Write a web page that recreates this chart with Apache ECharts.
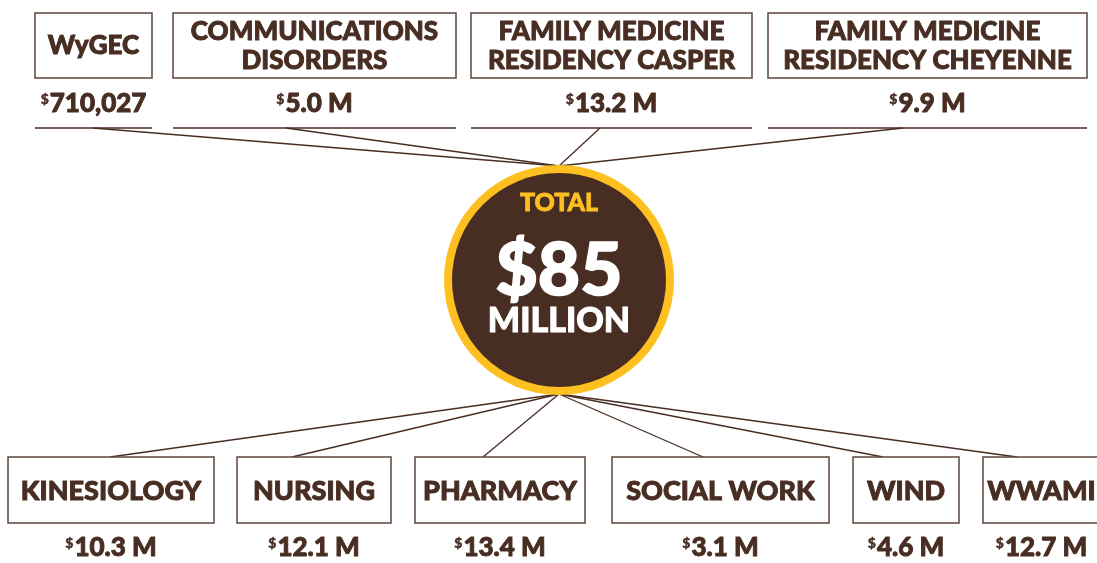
<!DOCTYPE html>
<html>
<head>
<meta charset="utf-8">
<script src="https://cdn.jsdelivr.net/npm/echarts@6/dist/echarts.min.js"></script>
<style>
  html, body { margin: 0; padding: 0; background: #fff; }
  #chart { width: 1097px; height: 563px; }
</style>
</head>
<body>
<div id="chart"></div>
<script>
// data
const topNames = ['WyGEC', 'COMMUNICATIONS\nDISORDERS', 'FAMILY MEDICINE\nRESIDENCY CASPER', 'FAMILY MEDICINE\nRESIDENCY CHEYENNE'];
const topAmounts = [0.710027, 5.0, 13.2, 9.9]; // millions
const bottomNames = ['KINESIOLOGY', 'NURSING', 'PHARMACY', 'SOCIAL WORK', 'WIND', 'WWAMI'];
const bottomAmounts = [10.3, 12.1, 13.4, 3.1, 4.6, 12.7]; // millions
const totalLabel = 'TOTAL';
const totalMillions = 85;

// layout (box left/right edges and where the connector meets each box)
const topBoxes = [[35, 152], [173, 456], [471, 752], [768, 1087]];
const topAnchor = [93, 286, 600, 903];
const bottomBoxes = [[8, 214], [237, 391], [415, 585], [612, 829], [853, 959], [983, 1100]];
const bottomAnchor = [110, 292, 483, 703, 883, 1017];

const brown = '#482d22';
const gold = '#fdc020';
const font = 'Lato';
const cx = 559, cy = 280, R = 115;

function fmt(m) {
  if (m < 1) return Math.round(m * 1e6).toLocaleString('en-US');
  return m.toFixed(1) + ' M';
}
// heavy text: bold face plus a thin outline of the same colour
function heavy(col, w) {
  return { fill: col, stroke: col, lineWidth: w };
}
function moneyText(x, y, m) {
  return {
    type: 'text', x: x, y: y, z: 5,
    style: {
      text: '{s|$}{v|' + fmt(m) + '}',
      align: 'center', verticalAlign: 'middle',
      rich: {
        s: Object.assign({ fontSize: 14, fontWeight: 900, fontFamily: font, padding: [0, 1, 10, 0] }, heavy(brown, 0.4)),
        v: Object.assign({ fontSize: 26, fontWeight: 900, fontFamily: font }, heavy(brown, 0.9))
      }
    }
  };
}

const els = [];
// connectors
topAnchor.forEach(a => els.push({
  type: 'line', z: 1, shape: { x1: a, y1: 128, x2: cx, y2: cy - R + 1 },
  style: { stroke: brown, lineWidth: 1.3 }
}));
bottomAnchor.forEach(a => els.push({
  type: 'line', z: 1, shape: { x1: cx, y1: cy + R - 1, x2: a, y2: 457 },
  style: { stroke: brown, lineWidth: 1.3 }
}));

// top row
topNames.forEach((n, i) => {
  const [l, r] = topBoxes[i];
  els.push({ type: 'rect', z: 3, shape: { x: l, y: 13, width: r - l, height: 65 },
    style: { fill: '#fff', stroke: '#5e453b', lineWidth: 1.5 } });
  els.push({ type: 'text', z: 4, x: (l + r) / 2, y: 46,
    style: Object.assign({ text: n, align: 'center', verticalAlign: 'middle', fontSize: 26, fontWeight: 900,
      fontFamily: font, lineHeight: 29 }, heavy(brown, 0.9)) });
  els.push(moneyText((l + r) / 2, 104, topAmounts[i]));
  els.push({ type: 'line', z: 3, shape: { x1: l, y1: 128, x2: r, y2: 128 },
    style: { stroke: brown, lineWidth: 1.5 } });
});

// bottom row
bottomNames.forEach((n, i) => {
  const [l, r] = bottomBoxes[i];
  els.push({ type: 'rect', z: 3, shape: { x: l, y: 457, width: r - l, height: 66 },
    style: { fill: '#fff', stroke: '#5e453b', lineWidth: 1.5 } });
  els.push({ type: 'text', z: 4, x: (l + r) / 2, y: 491,
    style: Object.assign({ text: n, align: 'center', verticalAlign: 'middle', fontSize: 27, fontWeight: 900,
      fontFamily: font }, heavy(brown, 0.9)) });
  els.push(moneyText((l + r) / 2, 548, bottomAmounts[i]));
});

// centre circle
els.push({ type: 'circle', z: 6, shape: { cx: cx, cy: cy, r: R }, style: { fill: gold } });
els.push({ type: 'circle', z: 7, shape: { cx: cx, cy: cy, r: R - 8 }, style: { fill: brown } });
els.push({ type: 'text', z: 8, x: cx, y: 203,
  style: Object.assign({ text: totalLabel, align: 'center', verticalAlign: 'middle', fontSize: 25, fontWeight: 900, fontFamily: font }, heavy(gold, 0.8)) });
els.push({ type: 'text', z: 8, x: cx, y: 271,
  style: Object.assign({ text: '$' + totalMillions, align: 'center', verticalAlign: 'middle', fontSize: 73, fontWeight: 900, fontFamily: font }, heavy('#fff', 1.6)) });
els.push({ type: 'text', z: 8, x: cx, y: 321,
  style: Object.assign({ text: 'MILLION', align: 'center', verticalAlign: 'middle', fontSize: 34, fontWeight: 900, fontFamily: font }, heavy('#fff', 1)) });

const chart = echarts.init(document.getElementById('chart'));
chart.setOption({
  backgroundColor: '#fff',
  animation: false,
  graphic: { elements: els }
});
</script>
</body>
</html>
